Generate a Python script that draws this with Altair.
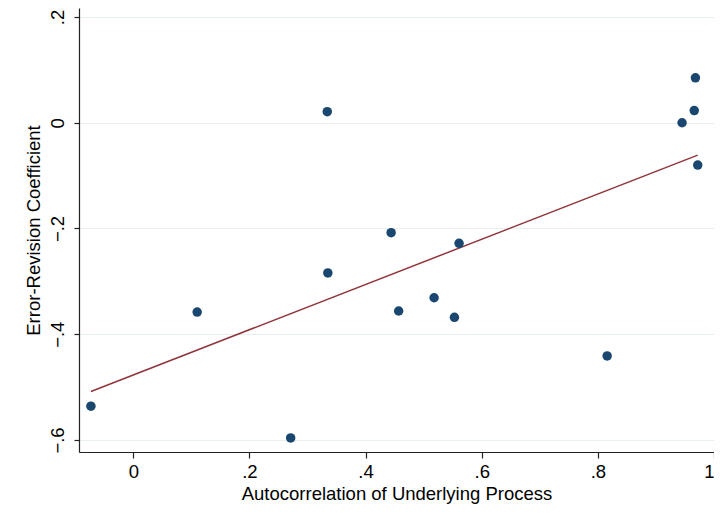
import altair as alt
import pandas as pd

autocorr = [-0.073, 0.110, 0.271, 0.334, 0.335, 0.444, 0.457, 0.518, 0.553, 0.561, 0.816, 0.945, 0.966, 0.968, 0.972]
err_rev = [-0.536, -0.358, -0.596, 0.021, -0.284, -0.208, -0.356, -0.331, -0.368, -0.228, -0.441, 0.000, 0.023, 0.085, -0.080]
x_ticks = [0, 0.2, 0.4, 0.6, 0.8, 1]
y_ticks = [-0.6, -0.4, -0.2, 0, 0.2]

df = pd.DataFrame({"x": autocorr, "y": err_rev})

lab = "replace(format(datum.value, '~g'), '0.', '.')"
FONT = "Liberation Sans"

xenc = alt.X(
    "x:Q",
    scale=alt.Scale(domain=[-0.0935, 1.0], nice=False, zero=False),
    axis=alt.Axis(
        title="Autocorrelation of Underlying Process",
        values=x_ticks, labelExpr=lab, grid=False, labelFlush=True,
        tickSize=6, labelPadding=4, titlePadding=4,
    ),
)
yenc = alt.Y(
    "y:Q",
    scale=alt.Scale(domain=[-0.6227, 0.217], nice=False, zero=False),
    axis=alt.Axis(
        title="Error-Revision Coefficient",
        values=y_ticks, labelExpr=lab, grid=True,
        gridColor="#e8eff1", gridWidth=1.2,
        tickSize=5, labelAngle=270, labelAlign="center",
        labelBaseline="alphabetic", labelPadding=11, titlePadding=5,
    ),
)

base = alt.Chart(df)
points = base.mark_circle(size=90, opacity=1, color="#1a476f").encode(x=xenc, y=yenc)
fit = base.transform_regression("x", "y").mark_line(color="#90353b", strokeWidth=1.5).encode(x="x:Q", y="y:Q")

chart = (
    alt.layer(fit, points)
    .properties(
        width=635, height=444,
        background="white",
        autosize=alt.AutoSizeParams(type="none"),
        padding={"left": 71, "top": 0, "right": 0, "bottom": 60},
    )
    .configure_view(stroke=None)
    .configure_axis(
        labelFont=FONT, titleFont=FONT, labelFontSize=18.5, titleFontSize=18.5,
        labelColor="#000", titleColor="#000", titleFontWeight="normal",
        domainColor="#222", tickColor="#222", domainWidth=1.2, tickWidth=1.2,
    )
)

chart.save("out.html", embed_options={"renderer": "svg", "actions": False})
